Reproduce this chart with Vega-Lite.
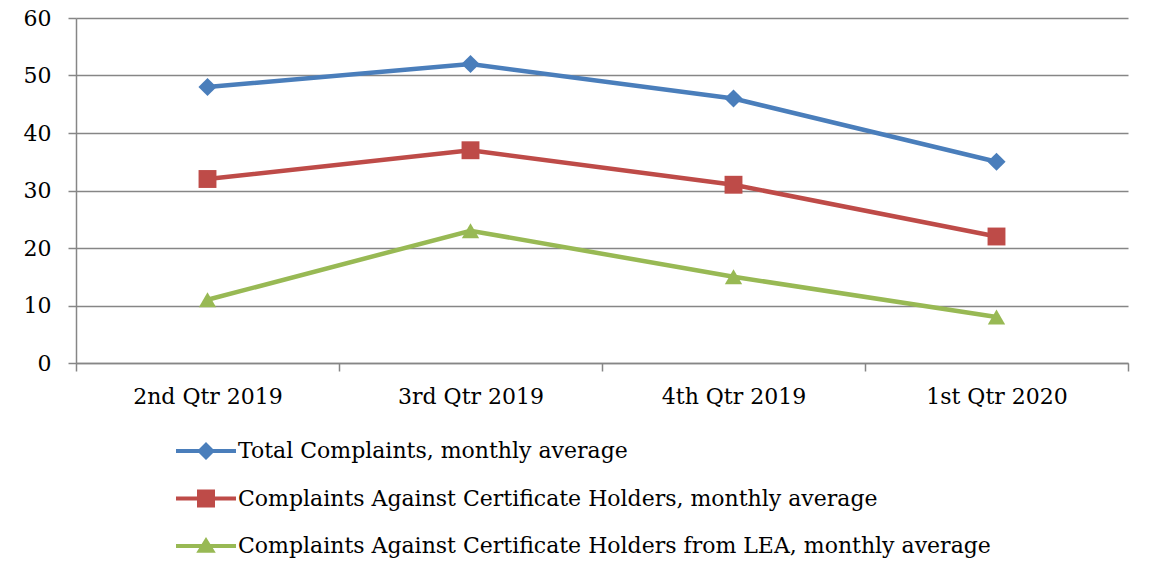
{
  "$schema": "https://vega.github.io/schema/vega-lite/v6.json",
  "width": 1052,
  "height": 345,
  "autosize": {"type": "none"},
  "padding": {"left": 76, "top": 18, "right": 28, "bottom": 214},
  "background": "white",
  "data": {
    "values": [
      {"quarter": "2nd Qtr 2019", "series": "Total Complaints, monthly average", "value": 48},
      {"quarter": "3rd Qtr 2019", "series": "Total Complaints, monthly average", "value": 52},
      {"quarter": "4th Qtr 2019", "series": "Total Complaints, monthly average", "value": 46},
      {"quarter": "1st Qtr 2020", "series": "Total Complaints, monthly average", "value": 35},
      {"quarter": "2nd Qtr 2019", "series": "Complaints Against Certificate Holders, monthly average", "value": 32},
      {"quarter": "3rd Qtr 2019", "series": "Complaints Against Certificate Holders, monthly average", "value": 37},
      {"quarter": "4th Qtr 2019", "series": "Complaints Against Certificate Holders, monthly average", "value": 31},
      {"quarter": "1st Qtr 2020", "series": "Complaints Against Certificate Holders, monthly average", "value": 22},
      {"quarter": "2nd Qtr 2019", "series": "Complaints Against Certificate Holders from LEA, monthly average", "value": 11},
      {"quarter": "3rd Qtr 2019", "series": "Complaints Against Certificate Holders from LEA, monthly average", "value": 23},
      {"quarter": "4th Qtr 2019", "series": "Complaints Against Certificate Holders from LEA, monthly average", "value": 15},
      {"quarter": "1st Qtr 2020", "series": "Complaints Against Certificate Holders from LEA, monthly average", "value": 8}
    ]
  },
  "encoding": {
    "x": {
      "field": "quarter", "type": "nominal",
      "sort": ["2nd Qtr 2019", "3rd Qtr 2019", "4th Qtr 2019", "1st Qtr 2020"],
      "scale": {"type": "band", "paddingInner": 0, "paddingOuter": 0},
      "axis": {"title": null, "labelAngle": 0, "tickBand": "extent", "grid": false, "labelPadding": 15}
    },
    "y": {
      "field": "value", "type": "quantitative",
      "scale": {"domain": [0, 60], "nice": false},
      "axis": {"title": null, "values": [0, 10, 20, 30, 40, 50, 60], "grid": true, "labelPadding": 17}
    },
    "color": {
      "field": "series", "type": "nominal",
      "scale": {
        "domain": ["Total Complaints, monthly average", "Complaints Against Certificate Holders, monthly average", "Complaints Against Certificate Holders from LEA, monthly average"],
        "range": ["#4A7EBB", "#BE4B48", "#98B954"]
      }
    }
  },
  "layer": [
    {"mark": {"type": "line", "strokeWidth": 4.5}},
    {
      "transform": [{"filter": "datum.series === 'Total Complaints, monthly average'"}],
      "mark": {"type": "point", "shape": "diamond", "filled": true, "size": 330, "opacity": 1}
    },
    {
      "transform": [{"filter": "datum.series === 'Complaints Against Certificate Holders, monthly average'"}],
      "mark": {"type": "point", "shape": "square", "filled": true, "size": 320, "opacity": 1}
    },
    {
      "transform": [{"filter": "datum.series === 'Complaints Against Certificate Holders from LEA, monthly average'"}],
      "mark": {"type": "point", "shape": "triangle-up", "filled": true, "size": 300, "opacity": 1}
    },
    {
      "mark": {"type": "point", "filled": true, "opacity": 0},
      "encoding": {
        "shape": {
          "field": "series", "type": "nominal",
          "scale": {
            "domain": ["Total Complaints, monthly average", "Complaints Against Certificate Holders, monthly average", "Complaints Against Certificate Holders from LEA, monthly average"],
            "range": [
              "M-2,-0.13H2V0.13H-2ZM0,-0.6L0.6,0L0,0.6L-0.6,0Z",
              "M-2,-0.13H2V0.13H-2ZM-0.6,-0.6H0.6V0.6H-0.6Z",
              "M-2,-0.13H2V0.13H-2ZM0,-0.6L0.65,0.45L-0.65,0.45Z"
            ]
          }
        }
      }
    }
  ],
  "config": {
    "view": {"stroke": null},
    "font": "DejaVu Serif",
    "axis": {
      "labelFont": "DejaVu Serif",
      "labelFontSize": 22,
      "labelColor": "#000000",
      "domainColor": "#868686",
      "domainWidth": 1.5,
      "tickColor": "#868686",
      "tickWidth": 1.5,
      "tickSize": 8,
      "gridColor": "#868686",
      "gridWidth": 1.5
    },
    "legend": {
      "orient": "none",
      "legendX": 115,
      "legendY": 418,
      "direction": "vertical",
      "title": null,
      "padding": 0,
      "labelFont": "DejaVu Serif",
      "labelFontSize": 22,
      "labelColor": "#000000",
      "labelOffset": 17,
      "labelLimit": 1000,
      "rowPadding": 21.5,
      "symbolSize": 900,
      "symbolOpacity": 1,
      "symbolStrokeWidth": 0
    }
  }
}
